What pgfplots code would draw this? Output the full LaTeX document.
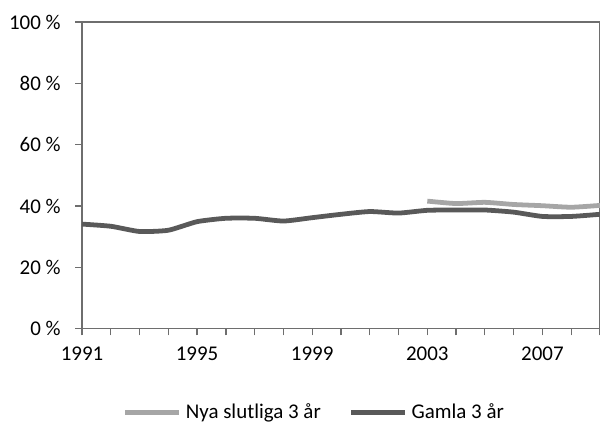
\documentclass[border=0pt]{standalone}
\usepackage{fontspec}
\setmainfont{Carlito}
\usepackage{pgfplots}
\pgfplotsset{compat=1.18}
\definecolor{nya}{HTML}{A6A6A6}
\definecolor{gamla}{HTML}{595959}
\definecolor{ram}{HTML}{6E6E6E}

\begin{document}
\begin{tikzpicture}
\useasboundingbox (0,0) rectangle (15cm,10.625cm);
\begin{axis}[scale only axis,width=12.95cm,height=7.6675cm,at={(2.05cm,2.4075cm)},anchor=south west,
 xmin=1991,xmax=2009,ymin=0,ymax=100,
 axis line style={ram,line width=0.9pt},
 tick style={ram,line width=0.9pt},tick align=outside,major tick length=0.17cm,
 xtick pos=lower,ytick pos=left,
 xtick={1991,...,2009},xticklabels={1991,,,,1995,,,,1999,,,,2003,,,,2007,,,},
 ytick={0,20,...,100},yticklabel={\pgfmathprintnumber{\tick}~\%},
 /pgf/number format/assume math mode=true,
 tick label style={font=\fontsize{14.9}{17}\selectfont},
 xticklabel style={yshift=-0.17cm},yticklabel style={xshift=-0.24cm},
 legend columns=2,
 legend style={draw=none,at={(0.4507,-0.272)},anchor=center,font=\fontsize{14.9}{17}\selectfont,
  /tikz/every even column/.append style={column sep=0.6cm},
  nodes={inner xsep=0.1cm}},
 legend image code/.code={\draw[#1] (0cm,0cm) -- (1.35cm,0cm);}]
 \addplot[nya,line width=3.4pt,smooth,tension=0.35] coordinates {
  (2003,41.6)(2004,40.8)(2005,41.2)(2006,40.5)(2007,40.1)(2008,39.6)(2009,40.2)};
 \addlegendentry{Nya slutliga 3 år}
 \addplot[gamla,line width=3.4pt,smooth,tension=0.35] coordinates {
  (1991,34.1)(1992,33.4)(1993,31.7)(1994,32.1)(1995,34.9)(1996,36.0)(1997,36.0)(1998,35.1)
  (1999,36.2)(2000,37.3)(2001,38.2)(2002,37.7)(2003,38.6)(2004,38.7)(2005,38.7)(2006,38.0)
  (2007,36.6)(2008,36.6)(2009,37.3)};
 \addlegendentry{Gamla 3 år}
\end{axis}
\end{tikzpicture}
\end{document}
